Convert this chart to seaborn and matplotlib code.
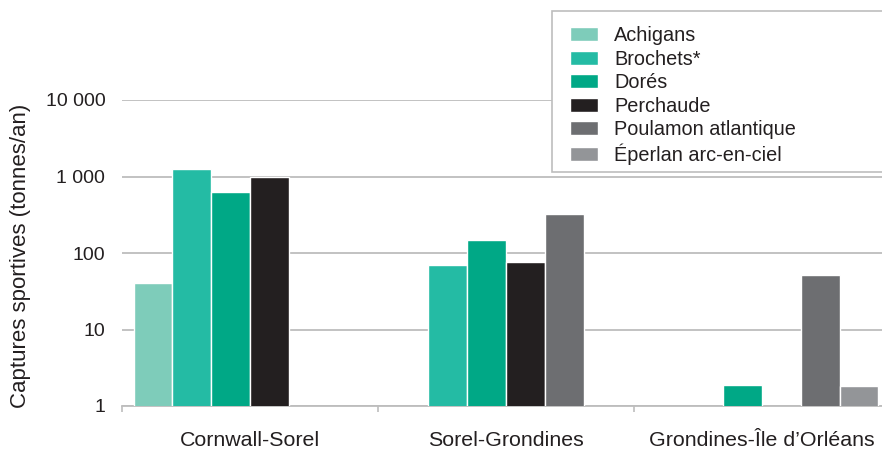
import matplotlib
matplotlib.use("Agg")
import matplotlib.pyplot as plt
import seaborn as sns
import pandas as pd
from matplotlib.ticker import FixedLocator
from matplotlib.patches import Rectangle

# ---- data ----
regions = ["Cornwall-Sorel", "Sorel-Grondines", "Grondines-Île d’Orléans"]
species = ["Achigans", "Brochets*", "Dorés", "Perchaude",
           "Poulamon atlantique", "Éperlan arc-en-ciel"]
achigans = [40, None, None]
brochets = [1270, 69, None]
dores = [620, 150, 1.9]
perchaude = [990, 77, None]
poulamon = [None, 320, 51]
eperlan = [None, None, 1.85]
colors = ["#7ECCBA", "#24BBA4", "#00A886", "#231F20", "#6D6E71", "#939598"]
ytick_vals = [1, 10, 100, 1000, 10000]
ytick_labels = ["1", "10", "100", "1 000", "10 000"]
ylabel = "Captures sportives (tonnes/an)"

series = [achigans, brochets, dores, perchaude, poulamon, eperlan]
rows = []
for sp, vals in zip(species, series):
    for reg, v in zip(regions, vals):
        if v is not None:
            rows.append({"region": reg, "species": sp, "value": v})
df = pd.DataFrame(rows)

sns.set_theme(style="white")
plt.rcParams["font.family"] = ["Liberation Sans", "DejaVu Sans"]

W, H = 882, 450
fig = plt.figure(figsize=(W / 100, H / 100), dpi=100)
ax = fig.add_axes([122 / W, 1 - 406 / H, 1 - 122 / W, (406 - 100) / H])
ax.set_yscale("log")

sns.barplot(data=df, x="region", y="value", hue="species",
            order=regions, hue_order=species, palette=colors, saturation=1,
            width=0.91, gap=0, edgecolor="white", linewidth=1.0,
            errorbar=None, ax=ax, legend=True, zorder=3)

ax.set_ylim(1, 10000)
ax.set_xlim(-0.5, 2.469)

# grid
ax.yaxis.set_major_locator(FixedLocator(ytick_vals))
ax.yaxis.set_minor_locator(FixedLocator([]))
ax.set_yticklabels(ytick_labels, fontsize=14, color="#231F20")
ax.grid(axis="y", color="#BDBDBD", linewidth=1.3, zorder=0)
ax.set_axisbelow(True)
ax.tick_params(axis="y", length=0, pad=12)

# x axis
ax.set_xticks(range(len(regions)))
ax.set_xticklabels(regions, fontsize=15.4, color="#231F20")
ax.set_xticks([-0.5, 0.5, 1.5], minor=True)
ax.tick_params(axis="x", which="major", length=0, pad=18)
ax.tick_params(axis="x", which="minor", length=4, width=1.2, color="#BDBDBD",
               direction="out", bottom=True)
ax.set_xlabel("")
ax.set_ylabel(ylabel, fontsize=16, color="#231F20")
ax.yaxis.set_label_coords(-0.12, 0.49)

for s in ["top", "right", "left"]:
    ax.spines[s].set_visible(False)
ax.spines["bottom"].set_color("#BDBDBD")
ax.spines["bottom"].set_linewidth(1.3)

# legend frame drawn as a figure rectangle
frame = Rectangle((552 / W, 1 - 172 / H), 340 / W, (172 - 10.7) / H,
                  transform=fig.transFigure, facecolor="white",
                  edgecolor="#BDBDBD", linewidth=1.2, zorder=9)
fig.add_artist(frame)

handles, labels = ax.get_legend_handles_labels()
ax.get_legend().remove()
leg = fig.legend(handles, labels, loc="upper left",
                 bbox_to_anchor=(570 / W, 1 - 26 / H),
                 prop={"size": 14.3}, frameon=False,
                 handlelength=1.4, handleheight=0.7, handletextpad=0.82,
                 labelspacing=0.23, borderpad=0, borderaxespad=0)
for t in leg.get_texts():
    t.set_color("#231F20")
leg.set_zorder(10)

fig.savefig("out.png", dpi=100)
